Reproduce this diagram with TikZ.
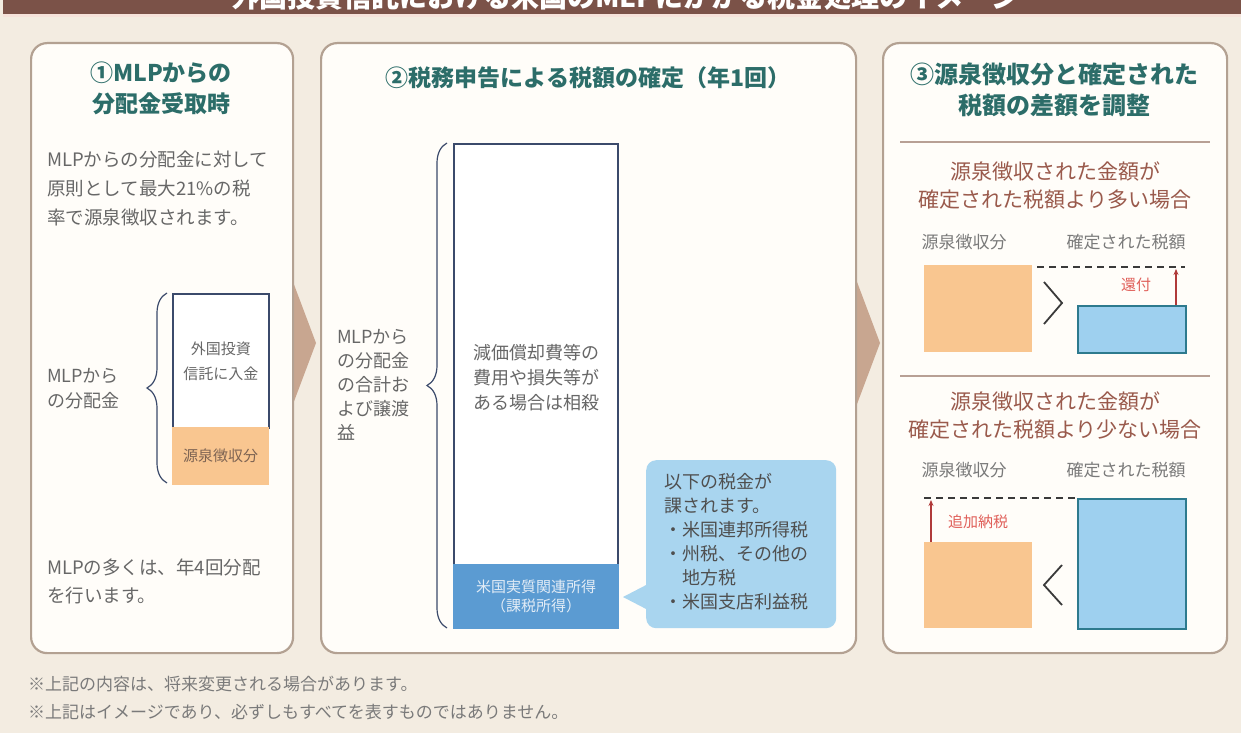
\documentclass[tikz,border=0pt]{standalone}
\usepackage{fontspec}
\setmainfont{Noto Sans CJK JP}
\usetikzlibrary{decorations.pathreplacing,arrows.meta}
\definecolor{barbrown}{HTML}{7B5248}
\definecolor{barline}{HTML}{F6E2DA}
\definecolor{bgcream}{HTML}{F3ECE1}
\definecolor{panelfill}{HTML}{FFFDF9}
\definecolor{panelline}{HTML}{B3A192}
\definecolor{chev}{HTML}{C8A690}
\definecolor{ttlcol}{HTML}{2C6D69}
\definecolor{txtgray}{HTML}{676767}
\definecolor{lblgray}{HTML}{7A7A7A}
\definecolor{navy}{HTML}{3B4A6B}
\definecolor{orng}{HTML}{F9C690}
\definecolor{orngtxt}{HTML}{7E6453}
\definecolor{barblue}{HTML}{5B9BD2}
\definecolor{bartxt}{HTML}{E2ECF6}
\definecolor{callblue}{HTML}{A9D5EF}
\definecolor{calltxt}{HTML}{4F4F4F}
\definecolor{sqblue}{HTML}{9ED0EF}
\definecolor{sqedge}{HTML}{2D7A8E}
\definecolor{subbrown}{HTML}{9A5A4C}
\definecolor{redtxt}{HTML}{E0605A}
\definecolor{arrred}{HTML}{B03A3A}
\definecolor{divline}{HTML}{B8A095}
\definecolor{signgray}{HTML}{3A3A3A}
\begin{document}
\begin{tikzpicture}[x=1pt,y=-1pt,
  panel/.style={draw=panelline, line width=2.2pt, fill=panelfill, rounded corners=16pt, anchor=north west, inner sep=0pt},
  ptitle/.style={text=ttlcol, font=\bfseries\fontsize{23}{31}\selectfont, align=center, inner sep=0pt, anchor=north},
  body/.style={text=txtgray, font=\fontsize{18.5}{29}\selectfont, align=left, inner sep=0pt, anchor=north west},
  boxw/.style={draw=navy, line width=1.8pt, fill=white, anchor=north west, inner sep=0pt},
  boxo/.style={fill=orng, anchor=north west, inner sep=0pt},
  boxb/.style={fill=sqblue, draw=sqedge, line width=1.8pt, anchor=north west, inner sep=0pt},
  sub/.style={text=subbrown, font=\fontsize{21}{28}\selectfont, align=center, inner sep=0pt, anchor=north},
  lbl/.style={text=lblgray, font=\fontsize{17}{17}\selectfont, inner sep=0pt},
  redlbl/.style={text=redtxt, font=\fontsize{15}{15}\selectfont, inner sep=0pt},
  foot/.style={text=lblgray, font=\fontsize{17}{17}\selectfont, inner sep=0pt, anchor=west},
  bracel/.style={navy, line width=1.2pt, decorate, decoration={brace, amplitude=20pt}},
  sign/.style={signgray, line width=1.8pt},
  divl/.style={divline, line width=1.5pt},
  dashl/.style={signgray, line width=1.3pt, dash pattern=on 7pt off 5pt},
  uparr/.style={arrred, line width=1.6pt, -{Stealth[length=6pt,width=5pt]}}
]
\useasboundingbox (0,0) rectangle (1241,733);
\clip (0,0) rectangle (1241,733);
\fill[bgcream] (0,0) rectangle (1241,733);
% title bar
\fill[barbrown] (3,0) rectangle (1241,14);
\fill[barline] (3,14) rectangle (1241,17);
\node[text=white, font=\bfseries\fontsize{28}{28}\selectfont, anchor=base, inner sep=0pt] (title) at (625,8) {外国投資信託における米国のMLPにかかる税金処理のイメージ};
% chevrons
\fill[chev] (284,258) -- (316,343) -- (284,428) -- cycle;
\fill[chev] (848,258) -- (880,343) -- (848,428) -- cycle;
% panels
\node[panel, minimum width=262pt, minimum height=610pt] (p1) at (30,42) {};
\node[panel, minimum width=535pt, minimum height=610pt] (p2) at (320,42) {};
\node[panel, minimum width=344pt, minimum height=610pt] (p3) at (882,42) {};

% ---------- panel 1
\node[ptitle] (t1) at (161,62) {①MLPからの\\分配金受取時};
\node[body] (d1) at (47,151) {MLPからの分配金に対して\\原則として最大21\%の税\\率で源泉徴収されます。};
\node[boxw, minimum width=96pt, minimum height=134pt, text=txtgray, font=\fontsize{15}{25}\selectfont, align=center] (fund) at (172,293) {外国投資\\信託に入金};
\node[boxo, minimum width=97pt, minimum height=58pt, text=orngtxt, font=\fontsize{15}{15}\selectfont] (wh) at (172,427) {源泉徴収分};
\coordinate (b1bot) at (167,483);
\coordinate (b1top) at (167,293);
\draw[bracel] (b1bot) -- (b1top);
\node[body, font=\fontsize{18}{25}\selectfont] (lab1) at (47,368) {MLPから\\の分配金};
\node[body, font=\fontsize{18.5}{28}\selectfont] (n1) at (47,559) {MLPの多くは、年4回分配\\を行います。};

% ---------- panel 2
\node[ptitle] (t2) at (588,66) {②税務申告による税額の確定（年1回）};
\node[boxw, minimum width=164pt, minimum height=421pt] (inc) at (453,143) {};
\node[body, anchor=center, align=center, font=\fontsize{18}{25}\selectfont] (inctxt) at (536,378) {減価償却費等の\\費用や損失等が\\ある場合は相殺};
\node[fill=barblue, anchor=north west, inner sep=0pt, minimum width=166pt, minimum height=65pt, text=bartxt, font=\fontsize{15}{19}\selectfont, align=center] (eci) at (453,564) {米国実質関連所得\\（課税所得）};
\coordinate (b2bot) at (447,628);
\coordinate (b2top) at (447,143);
\draw[bracel] (b2bot) -- (b2top);
\node[body, font=\fontsize{18}{24}\selectfont] (lab2) at (337,329) {MLPから\\の分配金\\の合計お\\よび譲渡\\益};
\node[fill=callblue, rounded corners=10pt, anchor=north west, inner sep=0pt, minimum width=190pt, minimum height=168pt] (call) at (646,460) {};
\coordinate (ptip) at (623,597);
\fill[callblue] (650,583) -- (ptip) -- (650,611) -- cycle;
\node[body, text=calltxt, font=\fontsize{18}{24}\selectfont] (calltx) at (664,473) {以下の税金が\\課されます。\\・米国連邦所得税\\・州税、その他の\\\phantom{・}地方税\\・米国支店利益税};

% ---------- panel 3
\node[ptitle, font=\bfseries\fontsize{24}{31}\selectfont] (t3) at (1054,63) {③源泉徴収分と確定された\\税額の差額を調整};
\draw[divl] (900,142) -- (1210,142);
\node[sub] (s1) at (1055,162) {源泉徴収された金額が\\確定された税額より多い場合};
\node[lbl] (w1l) at (964,242) {源泉徴収分};
\node[lbl] (t1l) at (1126,242) {確定された税額};
\node[boxo, minimum width=108pt, minimum height=87pt] (w1) at (924,265) {};
\node[boxb, minimum width=108pt, minimum height=47pt] (tx1) at (1077,305) {};
\draw[sign] (1044,282) -- (1062,303) -- (1044,324);
\coordinate (d1a) at (1037,267);
\coordinate (d1b) at (1185,267);
\draw[dashl] (d1a) -- (d1b);
\coordinate (r1) at (1176,269);
\draw[uparr] (r1 |- tx1.north) -- (r1);
\node[redlbl] (ref) at (1136,285) {還付};

\draw[divl] (900,376) -- (1210,376);
\node[sub] (s2) at (1055,392) {源泉徴収された金額が\\確定された税額より少ない場合};
\node[lbl] (w2l) at (964,470) {源泉徴収分};
\node[lbl] (t2l) at (1126,470) {確定された税額};
\node[boxb, minimum width=108pt, minimum height=130pt] (tx2) at (1077,498) {};
\node[boxo, minimum width=108pt, minimum height=86pt] (w2) at (924,542) {};
\draw[sign] (1062,565) -- (1044,585) -- (1062,605);
\coordinate (d2a) at (924,498);
\draw[dashl] (d2a) -- (tx2.north west);
\coordinate (r2) at (931,500);
\draw[uparr] (r2 |- w2.north) -- (r2);
\node[redlbl] (add) at (978,522) {追加納税};

% footer
\node[foot] (f1) at (28,684) {※上記の内容は、将来変更される場合があります。};
\node[foot] (f2) at (28,712) {※上記はイメージであり、必ずしもすべてを表すものではありません。};
\end{tikzpicture}
\end{document}
